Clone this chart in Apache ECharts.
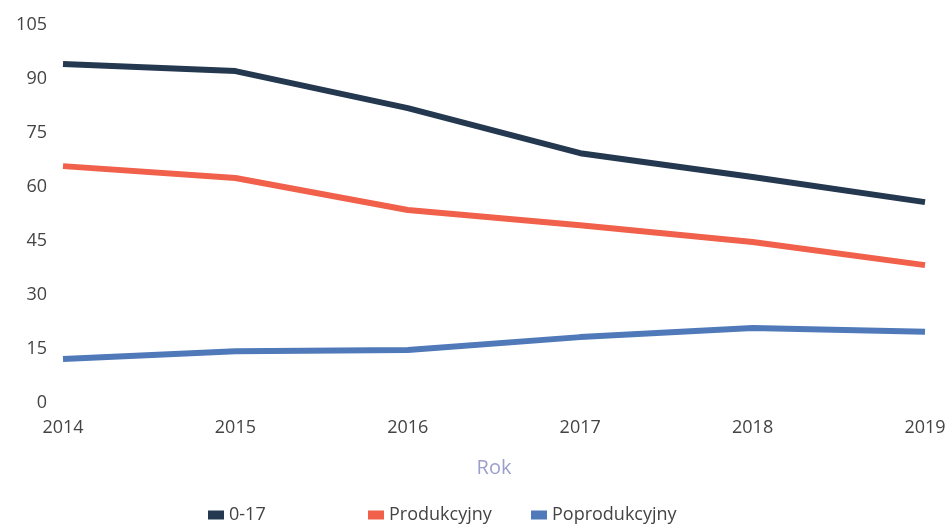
<!DOCTYPE html>
<html>
<head>
<meta charset="utf-8">
<script src="https://cdn.jsdelivr.net/npm/echarts@6/dist/echarts.min.js"></script>
<style>
  html, body { margin: 0; padding: 0; background: #fff; }
  #chart { width: 950px; height: 526px; }
</style>
</head>
<body>
<div id="chart"></div>
<script>
  var years = ['2014', '2015', '2016', '2017', '2018', '2019'];
  var przed = [94.2, 92.2, 81.9, 69.4, 62.8, 55.8];
  var produkcyjny = [65.8, 62.5, 53.6, 49.4, 44.7, 38.3];
  var poprodukcyjny = [12.2, 14.4, 14.7, 18.3, 20.8, 19.8];

  var names = ['0-17', 'Produkcyjny', 'Poprodukcyjny'];
  var colors = ['#243850', '#f0604a', '#4f79b8'];
  var legendLeft = [203, 363, 526];

  var chart = echarts.init(document.getElementById('chart'));

  var legendStyle = function (i) {
    return {
      data: [names[i]],
      left: legendLeft[i],
      top: 501,
      itemWidth: 16,
      itemHeight: 9,
      itemGap: 0,
      icon: 'rect',
      textStyle: { fontSize: 18, color: '#444', fontFamily: 'Open Sans' }
    };
  };

  chart.setOption({
    color: colors,
    textStyle: { fontFamily: 'Open Sans' },
    legend: [legendStyle(0), legendStyle(1), legendStyle(2)],
    grid: { left: 63, right: 25, top: 25, bottom: 123 },
    xAxis: {
      type: 'category',
      data: years,
      boundaryGap: false,
      name: 'Rok',
      nameLocation: 'middle',
      nameGap: 55,
      nameTextStyle: { fontSize: 20, color: '#9d9fcb' },
      axisLine: { show: false },
      axisTick: { show: false },
      axisLabel: { fontSize: 18, color: '#444', margin: 16 }
    },
    yAxis: {
      type: 'value',
      min: 0,
      max: 105,
      interval: 15,
      splitLine: { show: false },
      axisLine: { show: false },
      axisTick: { show: false },
      axisLabel: { fontSize: 18, color: '#444', margin: 16 }
    },
    series: [
      { name: names[0], type: 'line', data: przed, symbol: 'none', lineStyle: { width: 6 } },
      { name: names[1], type: 'line', data: produkcyjny, symbol: 'none', lineStyle: { width: 6 } },
      { name: names[2], type: 'line', data: poprodukcyjny, symbol: 'none', lineStyle: { width: 6 } }
    ]
  });
</script>
</body>
</html>
